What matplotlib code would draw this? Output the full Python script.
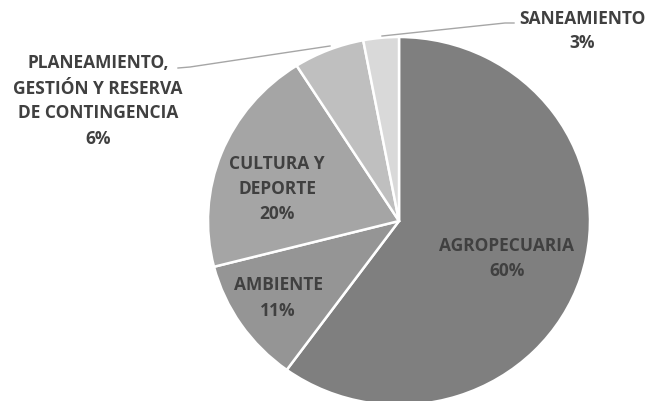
import matplotlib.pyplot as plt

# pie data (clockwise from 12 o'clock)
categories = ["AGROPECUARIA", "AMBIENTE", "CULTURA Y\nDEPORTE",
              "PLANEAMIENTO,\nGESTIÓN Y RESERVA\nDE CONTINGENCIA", "SANEAMIENTO"]
shares = [60, 11, 20, 6, 3]
colors = ["#7f7f7f", "#959595", "#a5a5a5", "#bfbfbf", "#d9d9d9"]

W, H = 652, 401
fig = plt.figure(figsize=(W / 100, H / 100), dpi=100)

# pie is slightly wider than tall in the reference
cx, cy, rx, ry = 399, 221, 191, 184
ax = fig.add_axes([(cx - rx) / W, 1 - (cy + ry) / H, 2 * rx / W, 2 * ry / H])
ax.pie(shares, colors=colors, startangle=90, counterclock=False,
       wedgeprops=dict(edgecolor="white", linewidth=1.8))
ax.set_xlim(-1, 1)
ax.set_ylim(-1, 1)
ax.set_aspect("auto")
ax.axis("off")


def px(x, y):
    return x / W, 1 - y / H


# label centres in pixels
label_pos = [(507, 259), (278, 298), (277, 189), (98, 101), (582, 31)]
txt_color = "#404040"
for name, v, (x, y) in zip(categories, shares, label_pos):
    fig.text(*px(x, y), f"{name}\n{v}%", ha="center", va="center",
             fontsize=12.5, fontweight="bold", color=txt_color,
             family="Open Sans", linespacing=1.5)

# leader lines
lc = "#a6a6a6"
xs, ys = zip(px(178, 68), px(190, 67), px(330, 46))
fig.add_artist(plt.Line2D(xs, ys, color=lc, lw=1))
xs, ys = zip(px(514, 23), px(505, 23), px(382, 36))
fig.add_artist(plt.Line2D(xs, ys, color=lc, lw=1))

fig.savefig("out.png", dpi=100)
